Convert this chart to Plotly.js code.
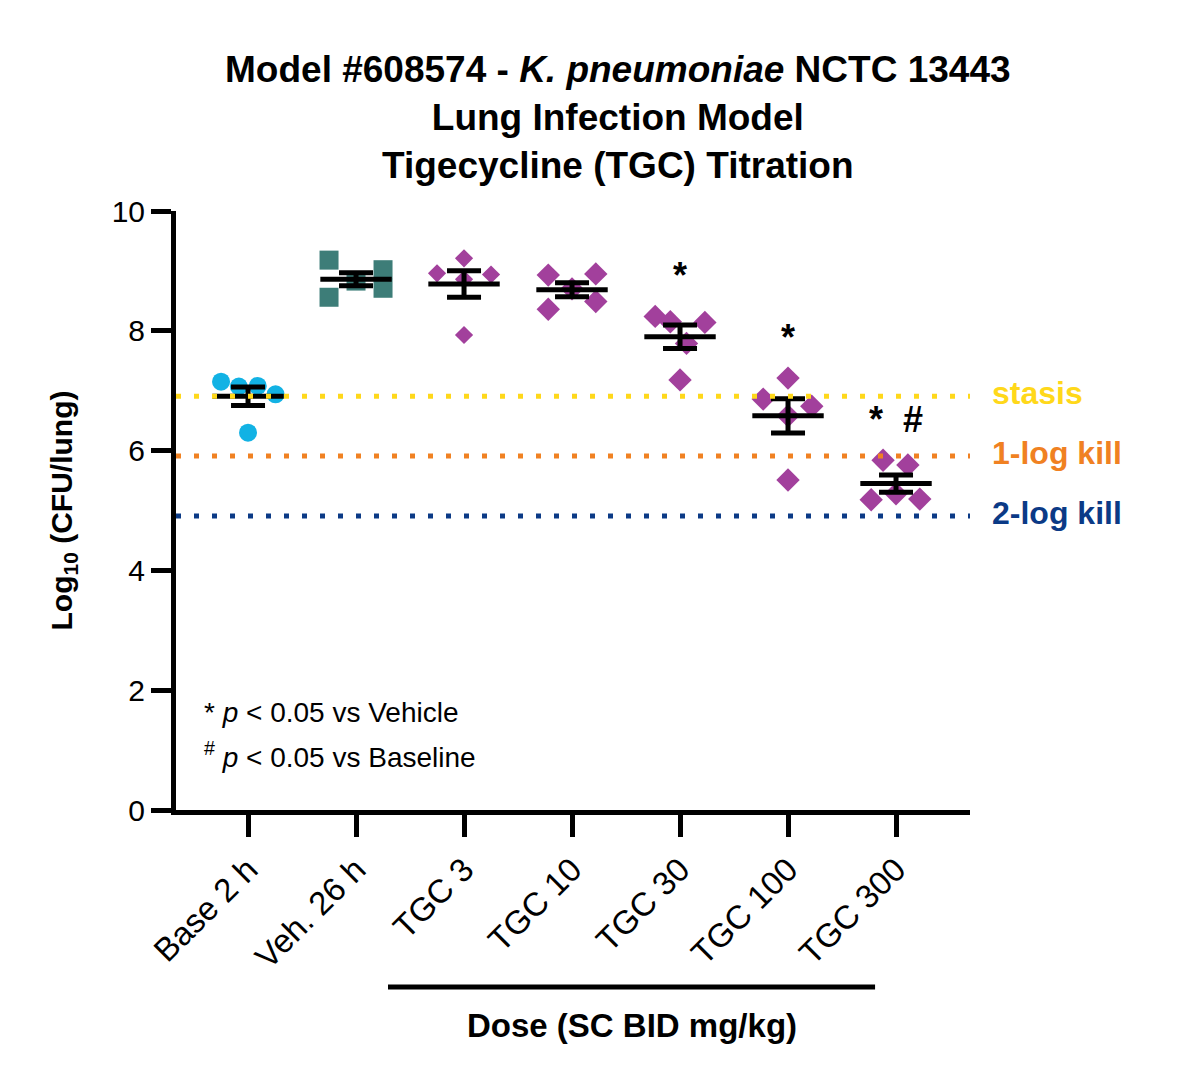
<!DOCTYPE html>
<html><head><meta charset="utf-8">
<script src="https://cdn.plot.ly/plotly-3.0.1.min.js"></script>
<style>html,body{margin:0;padding:0;background:#fff}</style>
</head><body>
<div id="chart" style="width:1179px;height:1089px"></div>
<script>
// ---- data ----
const categories = ['Base 2 h','Veh. 26 h','TGC 3','TGC 10','TGC 30','TGC 100','TGC 300'];
const base2h = [7.15, 7.07, 7.08, 6.94, 6.30];
const veh26h = [9.18, 8.56, 9.02, 8.71, 8.83];
const tgc3   = [8.96, 9.21, 8.94, 7.93, 8.86];
const tgc10  = [8.93, 8.36, 8.95, 8.49, 8.70];
const tgc30  = [8.24, 8.15, 8.14, 7.18, 7.79];
const tgc100 = [7.21, 6.86, 6.74, 5.51, 6.58];
const tgc300 = [5.84, 5.76, 5.18, 5.28, 5.19];
const yTicks = [0, 2, 4, 6, 8, 10];
const sigVsVehicle  = ['TGC 30', 'TGC 100', 'TGC 300'];
const sigVsBaseline = ['TGC 300'];
const thresholdNames = ['stasis', '1-log kill', '2-log kill'];
const thresholdLogDrop = [0, 1, 2];

// ---- presentation ----
const groups = [base2h, veh26h, tgc3, tgc10, tgc30, tgc100, tgc300];
const jitter = [
  [-0.25, -0.085, 0.09, 0.255, 0],
  [-0.25, -0.25, 0.25, 0.25, 0],
  [-0.25, 0, 0.25, 0, 0],
  [-0.22, -0.22, 0.22, 0.22, 0],
  [-0.23, -0.09, 0.23, 0, 0.06],
  [0, -0.23, 0.22, 0, 0],
  [-0.12, 0.11, -0.23, 0, 0.22]
];
const PURPLE = '#A2409C';
const styles = [
  {symbol:'circle', color:'#12B2E4', size:18},
  {symbol:'square', color:'#3D7D78', size:19},
  {symbol:'diamond', color:PURPLE, size:14},
  {symbol:'diamond', color:PURPLE, size:18},
  {symbol:'diamond', color:PURPLE, size:18},
  {symbol:'diamond', color:PURPLE, size:18},
  {symbol:'diamond', color:PURPLE, size:18}
];
const thresholdColors = ['#FFD81A', '#F08122', '#0B3A86'];
const FONT = '"Liberation Sans", Arial, Helvetica, sans-serif';

function mean(a){ return a.reduce((s,v)=>s+v,0)/a.length; }
function sem(a){ const m=mean(a); const v=a.reduce((s,x)=>s+(x-m)*(x-m),0)/(a.length-1); return Math.sqrt(v/a.length); }

const traces = [];
groups.forEach((vals, i) => {
  traces.push({
    type:'scatter', mode:'markers',
    x: vals.map((v,k)=> i + jitter[i][k]), y: vals,
    marker:{symbol:styles[i].symbol, color:styles[i].color, size:styles[i].size, line:{width:0}},
    cliponaxis:false, hoverinfo:'y', showlegend:false, name:categories[i]
  });
});
const means = groups.map(mean);
const sems = groups.map(sem);
traces.push({
  type:'scatter', mode:'markers',
  x: categories.map((c,i)=>i), y: means,
  marker:{symbol:'line-ew', size:51, color:'black', line:{width:5, color:'black'}},
  error_y:{type:'data', array:sems, visible:true, color:'black', thickness:5, width:17},
  cliponaxis:false, showlegend:false, hoverinfo:'y'
});

const baseMean = means[0];
const shapes = thresholdLogDrop.map((d,i)=>({
  type:'line', xref:'paper', x0:0, x1:1, yref:'y', y0:baseMean-d, y1:baseMean-d,
  line:{color:thresholdColors[i], width:5, dash:'5px,13px'}, layer:'above'
}));
const doseStart = 1.296, doseEnd = 5.806;
shapes.push({type:'line', xref:'x', x0:doseStart, x1:doseEnd, yref:'paper', y0:-0.2955, y1:-0.2955,
  line:{color:'black', width:5}});

const annotations = [];
thresholdNames.forEach((n,i)=>{
  annotations.push({xref:'paper', x:1.025, xanchor:'left', yref:'y', y:baseMean-thresholdLogDrop[i], yanchor:'middle', yshift:3,
    text:n, showarrow:false, font:{family:FONT, size:32, color:thresholdColors[i], weight:700}});
});
categories.forEach((c,i)=>{
  const a = sigVsVehicle.includes(c), b = sigVsBaseline.includes(c);
  if(!a && !b) return;
  const t = (a?'*':'') + (a&&b?'  ':'') + (b?'#':'');
  annotations.push({xref:'x', x:i, yref:'y', y:Math.max(...groups[i])+0.68, yanchor:'middle', xanchor:'center',
    text:t, showarrow:false, font:{family:FONT, size:36, color:'black', weight:700}});
});
annotations.push({xref:'paper', x:0.0327, xanchor:'left', yref:'y', y:1.62, yanchor:'middle',
  text:'* <i>p</i> &lt; 0.05 vs Vehicle', showarrow:false, font:{family:FONT, size:28, color:'black'}});
annotations.push({xref:'paper', x:0.0327, xanchor:'left', yref:'y', y:0.92, yanchor:'middle',
  text:'<sup>#</sup> <i>p</i> &lt; 0.05 vs Baseline', showarrow:false, font:{family:FONT, size:28, color:'black'}});
annotations.push({xref:'x', x:(doseStart+doseEnd)/2, xanchor:'center', yref:'paper', y:-0.359, yanchor:'middle',
  text:'Dose (SC BID mg/kg)', showarrow:false, font:{family:FONT, size:33, color:'black', weight:700}});

const layout = {
  width:1179, height:1089,
  margin:{l:176, r:209, t:211, b:279},
  paper_bgcolor:'white', plot_bgcolor:'white',
  font:{family:FONT, color:'black'},
  title:{
    text:'<b>Model #608574 - <i>K. pneumoniae</i> NCTC 13443<br>Lung Infection Model<br>Tigecycline (TGC) Titration</b>',
    font:{family:FONT, size:37, color:'black'},
    x:0.524, xanchor:'center', xref:'container', y:0.925, yanchor:'top', yref:'container'
  },
  xaxis:{
    range:[-0.667, 6.685], tickmode:'array', tickvals:categories.map((c,i)=>i), ticktext:categories,
    tickangle:-45, tickfont:{family:FONT, size:33, color:'black'},
    ticks:'outside', ticklen:22, tickwidth:5, tickcolor:'black',
    showline:true, linewidth:5, linecolor:'black', showgrid:false, zeroline:false, fixedrange:true
  },
  yaxis:{
    range:[0,10], tickmode:'array', tickvals:yTicks, ticktext:yTicks.map(String),
    tickfont:{family:FONT, size:30, color:'black'},
    ticks:'outside', ticklen:20, tickwidth:5, tickcolor:'black',
    showline:true, linewidth:5, linecolor:'black', showgrid:false, zeroline:false, fixedrange:true,
    title:{text:'Log<sub>10</sub> (CFU/lung)', font:{family:FONT, size:30, color:'black', weight:700}, standoff:32}
  },
  shapes:shapes, annotations:annotations, showlegend:false
};
Plotly.newPlot('chart', traces, layout, {displayModeBar:false, staticPlot:true});
</script>
</body></html>
